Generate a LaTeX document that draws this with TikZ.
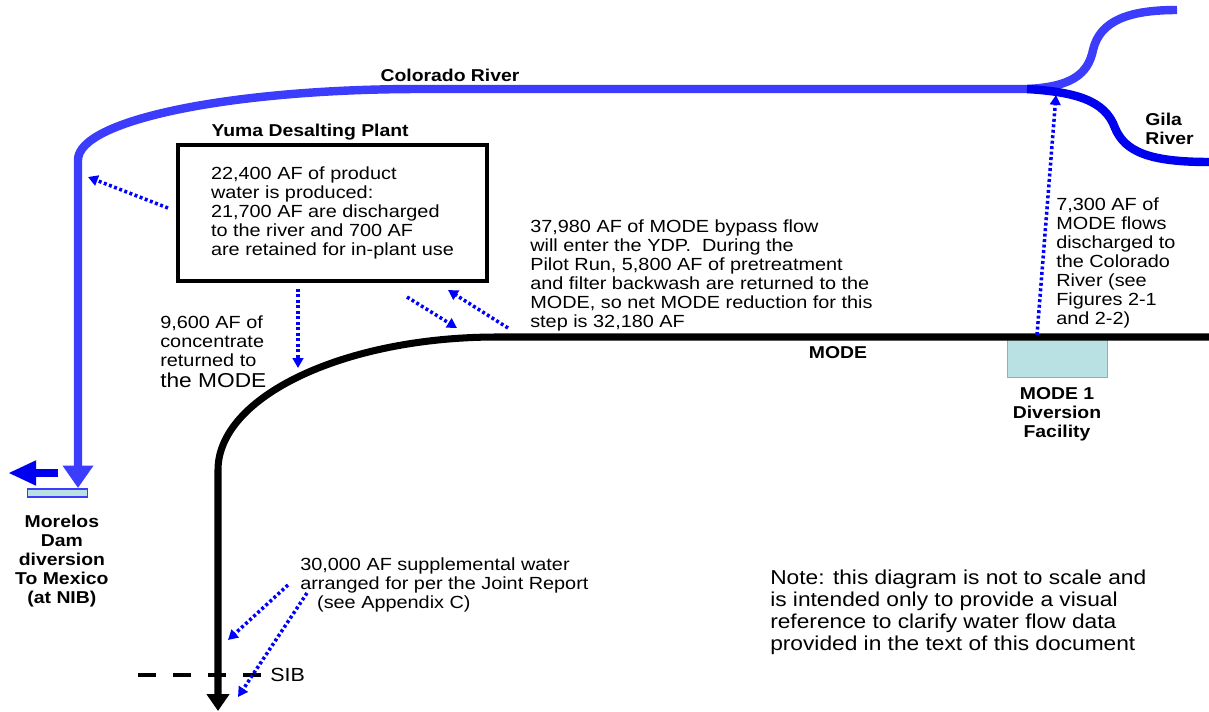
\documentclass[tikz,border=0pt]{standalone}
\usepackage{fontspec}
\setmainfont{Liberation Sans}[FakeStretch=1.13]
\usepackage{tikz}
\usetikzlibrary{positioning}
\usetikzlibrary{arrows.meta}

\definecolor{coloradoblue}{RGB}{60,60,252}
\definecolor{gilablue}{RGB}{0,0,240}
\definecolor{damfill}{RGB}{185,224,226}

\begin{document}
\begin{tikzpicture}[
    x=0.025cm, y=-0.025cm,
    river/.style={line width=6pt, draw=coloradoblue},
    flow/.style={draw=blue, line width=2.5pt, dash pattern=on 2.1pt off 1.8pt, -{Triangle[width=7.5pt,length=7pt]}},
    textnode/.style={align=left, anchor=north west, inner sep=0pt, font=\fontsize{12.5}{13.6}\selectfont},
    notenode/.style={align=left, anchor=north west, inner sep=0pt, font=\fontsize{14.3}{15.6}\selectfont},
    labelnode/.style={align=center, inner sep=0pt, font=\bfseries\fontsize{12.2}{13.6}\selectfont},
    damnode/.style={fill=damfill, inner sep=0pt}
    ]
    \useasboundingbox (0,0) rectangle (1209,711);

    %Nodes
    \node[draw, line width=3.2pt, minimum width=7.73cm, minimum height=3.4cm, align=left,
          inner sep=0pt, font=\fontsize{12.5}{13.6}\selectfont] (ydp) at (332.5,213)
        {22,400 AF of product\\water is produced:\\21,700 AF are discharged\\to the river and 700 AF\\are retained for in-plant use};
    \node[labelnode] (ydplabel) [above=0.05cm of ydp, xshift=-0.56cm] {Yuma Desalting Plant};

    \node[labelnode] (colorado) at (450,75) {Colorado River};
    \node[labelnode, align=left, anchor=north west] (gila) at (1145,113) {Gila\\River};

    \node[damnode, draw=gray!70, line width=0.6pt, minimum width=2.5cm, minimum height=1cm] (mode1) at (1057,357) {};
    \node[labelnode, anchor=north] (mode1label) [below=0.24cm of mode1] {MODE 1\\Diversion\\Facility};
    \node[labelnode] (modelabel) at (838,353) {MODE};

    \node[damnode, draw=coloradoblue, line width=1pt, minimum width=1.5cm, minimum height=0.2cm] (morelos) at (57.5,493) {};
    \node[labelnode, anchor=north] (moreloslabel) [below=0.42cm of morelos, xshift=0.11cm] {Morelos\\Dam\\diversion\\To Mexico\\(at NIB)};

    \node[textnode] (concentrate) at (160,315)
        {9,600 AF of\\concentrate\\returned to\\[1.5pt]{\fontsize{14.3}{15}\selectfont the MODE}};
    \node[textnode] (bypass) at (530,219)
        {37,980 AF of MODE bypass flow\\will enter the YDP.~ During the\\Pilot Run, 5,800 AF of pretreatment\\and filter backwash are returned to the\\MODE, so net MODE reduction for this\\step is 32,180 AF};
    \node[textnode] (discharge) at (1056,197)
        {7,300 AF of\\MODE flows\\discharged to\\the Colorado\\River (see\\Figures 2-1\\and 2-2)};
    \node[textnode] (supplemental) at (300,557)
        {30,000 AF supplemental water\\arranged for per the Joint Report\\\hspace{12pt}(see Appendix C)};
    \node[notenode] (note) at (770,570)
        {Note: this diagram is not to scale and\\is intended only to provide a visual\\reference to clarify water flow data\\provided in the text of this document};
    \node[anchor=west, inner sep=0pt, font=\fontsize{13.5}{15}\selectfont] (sib) at (270,675) {SIB};

    %Coordinates
    \coordinate (junction) at (1027,89);
    \coordinate (bend) at (420,89);
    \coordinate (down) at (78,160);
    \coordinate (nib) at (78,488);
    \coordinate (mexicostart) at (58,473);
    \coordinate (mexico) at (8,473);
    \coordinate (gilaend) at (1209,162);
    \coordinate (upperend) at (1177,10);
    \coordinate (modeend) at (1209,337);
    \coordinate (modebend) at (497,337);
    \coordinate (modedown) at (218,470);
    \coordinate (modeout) at (218,711);
    \coordinate (sibleft) at (138,675);
    \coordinate (sibright) at (262,675);

    \coordinate (a1s) at (168,208);
    \coordinate (a1e) at (88,177);
    \coordinate (a2s) at (298,289);
    \coordinate (a2e) at (298,368);
    \coordinate (a3s) at (407,297);
    \coordinate (a3e) at (457,328);
    \coordinate (a4s) at (508,328);
    \coordinate (a4e) at (448,290);
    \coordinate (a5s) at (1037,335);
    \coordinate (a5e) at (1056,95);
    \coordinate (a6s) at (288,585);
    \coordinate (a6e) at (228,640);
    \coordinate (a7s) at (307,593);
    \coordinate (a7e) at (238,697);

    %Lines
    \draw[river] (junction) .. controls (1070,87) and (1088,75) .. (1093,50)
        .. controls (1100,20) and (1130,10) .. (upperend);
    \draw[river, -{Triangle[width=21pt,length=16pt]}] (junction) -- (bend)
        .. controls (231,89) and (78,120) .. (down) -- (nib);
    \draw[river, draw=gilablue] (junction) .. controls (1075,92) and (1105,100) .. (1115,128)
        .. controls (1125,152) and (1150,162) .. (gilaend);
    \draw[gilablue, line width=5pt, -{Triangle[width=16.5pt,length=20pt]}] (mexicostart) -- (mexico);

    \draw[line width=5pt, -{Triangle[width=15.6pt,length=12pt]}] (modeend) -- (modebend)
        .. controls (343,337) and (218,397) .. (modedown) -- (modeout);
    \draw[line width=2.8pt, dash pattern=on 12.8pt off 12.1pt] (sibleft) -- (sibright);

    \draw[flow] (a1s) -- (a1e);
    \draw[flow] (a2s) -- (a2e);
    \draw[flow] (a3s) -- (a3e);
    \draw[flow] (a4s) -- (a4e);
    \draw[flow] (a5s) -- (a5e);
    \draw[flow] (a6s) -- (a6e);
    \draw[flow] (a7s) -- (a7e);

\end{tikzpicture}
\end{document}
